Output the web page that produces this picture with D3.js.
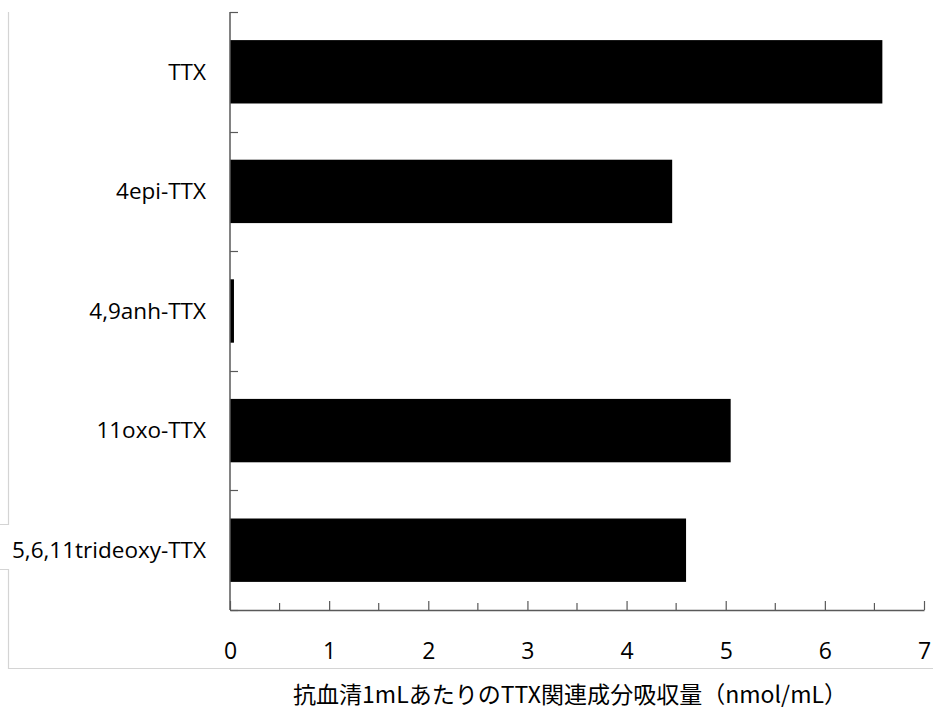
<!DOCTYPE html>
<html>
<head>
<meta charset="utf-8">
<script src="https://cdn.jsdelivr.net/npm/d3@7"></script>
<style>
body{margin:0;background:#fff}
svg{display:block}
</style>
</head>
<body>
<svg id="chart" width="933" height="710"></svg>
<script>
var categories = ["TTX","4epi-TTX","4,9anh-TTX","11oxo-TTX","5,6,11trideoxy-TTX"]
var values = [6.58,4.46,0.04,5.05,4.6]
var xTicks = [0,1,2,3,4,5,6,7]
var xMinor = [0.5,1.5,2.5,3.5,4.5,5.5,6.5]
var xTitle = "抗血清1mLあたりのTTX関連成分吸収量（nmol/mL）"

var svg = d3.select("#chart")
var plotL = 230, plotR = 924, plotT = 12, plotB = 610

var x = d3.scaleLinear().domain([0,7]).range([plotL,plotR])
var y = d3.scaleBand().domain(categories).range([plotT,plotB]).paddingInner(0.47).paddingOuter(0.235)

// leftover frame of the chart area (partly hidden behind the last label)
svg.append("path")
	.attr("d","M8.5,12V524.5H0M0,569.5H8.5V668.5H933")
	.attr("fill","none").attr("stroke","#d4d4d4").attr("stroke-width",1.2)

// bars
svg.selectAll(".bar").data(categories).enter().append("rect")
	.attr("class","bar")
	.attr("x",x(0))
	.attr("y",function(d){return y(d)})
	.attr("width",function(d,i){return x(values[i])-x(0)})
	.attr("height",y.bandwidth())
	.attr("fill","#000")

// y axis with ticks between the categories, pointing right
var bounds = categories.map(function(d){return y(d)-y.step()*y.paddingInner()/2}).concat([plotB])
svg.append("line").attr("x1",plotL).attr("x2",plotL).attr("y1",plotT).attr("y2",plotB)
	.attr("stroke","#595959").attr("stroke-width",1.5)
svg.selectAll(".ytick").data(bounds).enter().append("line")
	.attr("x1",plotL).attr("x2",plotL+8)
	.attr("y1",function(d){return Math.round(d)+0.5}).attr("y2",function(d){return Math.round(d)+0.5})
	.attr("stroke","#595959").attr("stroke-width",1.2)

svg.selectAll(".ylab").data(categories).enter().append("text")
	.attr("x",206)
	.attr("y",function(d){return y(d)+y.bandwidth()/2})
	.attr("dy","0.35em")
	.attr("text-anchor","end")
	.attr("font-family","Open Sans, sans-serif")
	.attr("font-size",22.5)
	.attr("fill","#000")
	.text(function(d){return d})

// x axis, ticks pointing up into the plot
var xAxis = d3.axisBottom(x).tickValues(xTicks).tickSizeInner(-9).tickSizeOuter(0).tickFormat(d3.format("d")).tickPadding(33)
var gx = svg.append("g").attr("transform","translate(0,"+plotB+")").call(xAxis)
gx.select(".domain").attr("stroke","#595959").attr("stroke-width",1.5)
gx.selectAll(".tick line").attr("stroke","#595959").attr("stroke-width",1.2)
gx.selectAll(".tick text").attr("font-family","Open Sans, sans-serif").attr("font-size",23).attr("fill","#000")

svg.selectAll(".minor").data(xMinor).enter().append("line")
	.attr("x1",function(d){return x(d)}).attr("x2",function(d){return x(d)})
	.attr("y1",plotB-7).attr("y2",plotB)
	.attr("stroke","#595959").attr("stroke-width",1.2)

svg.append("text")
	.attr("x",570).attr("y",703)
	.attr("text-anchor","middle")
	.attr("font-family","Noto Sans CJK JP, sans-serif")
	.attr("font-size",23)
	.attr("textLength",554).attr("lengthAdjust","spacingAndGlyphs")
	.attr("fill","#000")
	.text(xTitle)
</script>
</body>
</html>
